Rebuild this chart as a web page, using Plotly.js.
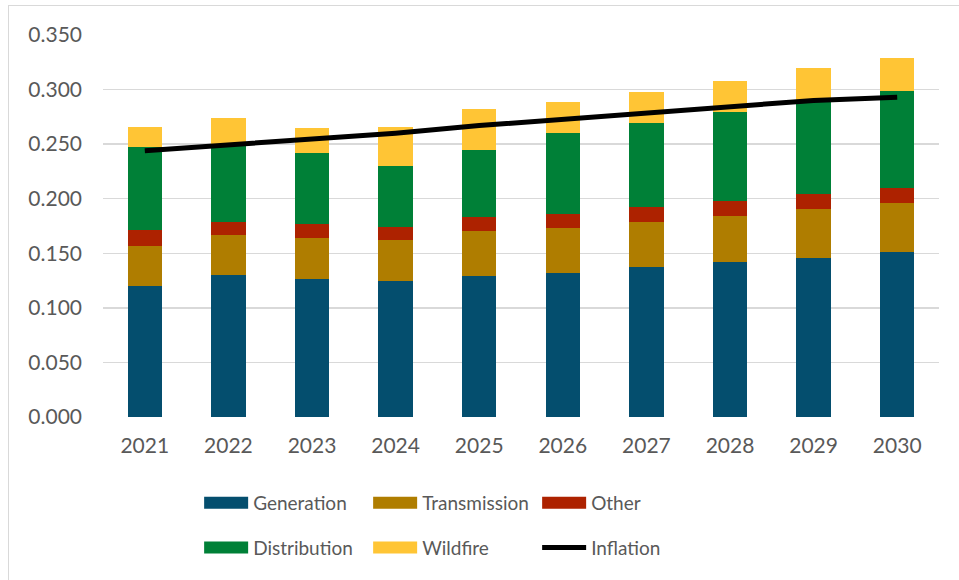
<!DOCTYPE html>
<html>
<head>
<meta charset="utf-8">
<script src="https://cdn.plot.ly/plotly-3.0.1.min.js"></script>
<style>
  html, body { margin: 0; padding: 0; background: #fff; }
  #wrap { position: relative; width: 959px; height: 580px; }
  #myPlot { position: absolute; left: 0; top: 0; width: 959px; height: 580px; }
  #frame { position: absolute; left: 8px; top: 5px; right: 0; bottom: 0;
           border-left: 1.5px solid #d9d9d9; border-top: 1.5px solid #d9d9d9;
           pointer-events: none; }
</style>
</head>
<body>
<div id="wrap">
  <div id="myPlot"></div>
  <div id="frame"></div>
</div>
<script>
// Years on the x axis
const years = ['2021','2022','2023','2024','2025','2026','2027','2028','2029','2030'];

// Stacked components
const generation   = [0.120, 0.130, 0.126, 0.125, 0.129, 0.132, 0.137, 0.142, 0.146, 0.151];
const transmission = [0.037, 0.037, 0.038, 0.037, 0.041, 0.041, 0.042, 0.042, 0.045, 0.045];
const other        = [0.014, 0.012, 0.013, 0.012, 0.013, 0.013, 0.013, 0.014, 0.013, 0.014];
const distribution = [0.076, 0.069, 0.065, 0.056, 0.062, 0.074, 0.077, 0.081, 0.085, 0.089];
const wildfire     = [0.019, 0.026, 0.023, 0.036, 0.037, 0.029, 0.029, 0.029, 0.031, 0.030];

// Inflation line
const inflation    = [0.244, 0.249, 0.254, 0.260, 0.267, 0.273, 0.279, 0.285, 0.290, 0.293];

const font = 'Lato, "Noto Sans", sans-serif';
const grey = '#595959';

function barTrace(name, y, color, legend) {
  return {
    x: years, y: y, type: 'bar', name: name,
    marker: { color: color, line: { width: 0 } },
    legend: legend,
    hoverinfo: 'skip'
  };
}

var data = [
  barTrace('Generation', generation, '#044e6e', 'legend'),
  barTrace('Transmission', transmission, '#af7d00', 'legend'),
  barTrace('Other', other, '#ad2200', 'legend'),
  barTrace('Distribution', distribution, '#008037', 'legend2'),
  barTrace('Wildfire', wildfire, '#ffc535', 'legend2'),
  {
    x: years, y: inflation, type: 'scatter', mode: 'lines', name: 'Inflation',
    line: { color: '#000000', width: 5 },
    legend: 'legend2',
    hoverinfo: 'skip'
  }
];

var legendBase = {
  orientation: 'h',
  xanchor: 'left', yanchor: 'middle',
  entrywidth: 110, entrywidthmode: 'pixels',
  itemwidth: 44,
  traceorder: 'normal',
  font: { family: font, size: 19, color: grey },
  bgcolor: 'rgba(0,0,0,0)'
};

var layout = {
  width: 959, height: 580,
  margin: { l: 103, r: 20, t: 35, b: 163 },
  paper_bgcolor: '#ffffff',
  plot_bgcolor: '#ffffff',
  barmode: 'stack',
  bargap: 0.59,
  font: { family: font, color: grey },
  showlegend: true,
  xaxis: {
    type: 'category',
    showgrid: false, zeroline: false, showline: false,
    ticks: '',
    ticklabelstandoff: 14,
    tickfont: { family: font, size: 21, color: grey }
  },
  yaxis: {
    range: [0, 0.35],
    dtick: 0.05,
    tickformat: '.3f',
    showgrid: true, gridcolor: '#d9d9d9', gridwidth: 1.5,
    zeroline: false, showline: false,
    ticks: '',
    ticklabelstandoff: 20,
    tickfont: { family: font, size: 21, color: grey }
  },
  legend: Object.assign({}, legendBase, { x: 0.115, y: -0.225 }),
  legend2: Object.assign({}, legendBase, { x: 0.115, y: -0.342 })
};

Plotly.newPlot('myPlot', data, layout, { displayModeBar: false, staticPlot: true })
  .then(function () {
    // widen the bar swatches in the legend to match the wide rectangles
    document.querySelectorAll('g.legendpoints path.legendbar, g.legendpoints path.legendundefined')
      .forEach(function (p) { p.setAttribute('d', 'M22,6H-22V-6H22Z'); });
  });
</script>
</body>
</html>
